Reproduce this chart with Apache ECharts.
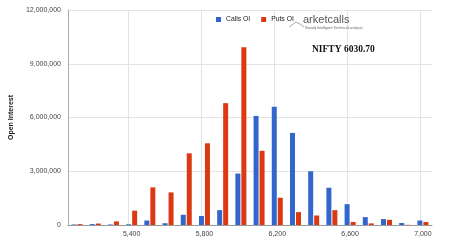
<!DOCTYPE html>
<html>
<head>
<meta charset="utf-8">
<script src="https://cdn.jsdelivr.net/npm/echarts@6/dist/echarts.min.js"></script>
<style>
  html, body { margin: 0; padding: 0; background: #fff; }
  #main { width: 474px; height: 244px; }
</style>
</head>
<body>
<div id="main"></div>
<script>
// strike prices (categories)
var strikes = ['5100','5200','5300','5400','5500','5600','5700','5800','5900','6000',
               '6100','6200','6300','6400','6500','6600','6700','6800','6900','7000'];
// open interest
var callsOI = [30000, 50000, 30000, 40000, 250000, 100000, 570000, 500000, 830000, 2870000,
               6090000, 6600000, 5140000, 3000000, 2080000, 1160000, 440000, 330000, 110000, 250000];
var putsOI  = [50000, 80000, 200000, 800000, 2100000, 1820000, 4000000, 4560000, 6800000, 9920000,
               4140000, 1520000, 720000, 530000, 830000, 170000, 90000, 290000, 10000, 170000];
// strikes that get a label and a vertical grid line
var labelStrikes = ['5400', '5800', '6200', '6600', '7000'];

var font = 'Liberation Sans, Arial, sans-serif';

function fmt(v) {
    return String(v).replace(/\B(?=(\d{3})+(?!\d))/g, ',');
}

var myChart = echarts.init(document.getElementById('main'));
myChart.setOption({
    animation: false,
    backgroundColor: '#fff',
    textStyle: { fontFamily: font },
    grid: { left: 62, right: 42, top: 10, bottom: 19 },
    legend: {
        left: 211, top: 11,
        icon: 'rect', itemWidth: 5, itemHeight: 5, itemGap: 11,
        textStyle: { fontSize: 6.8, color: '#222', fontFamily: font },
        data: ['Calls OI', 'Puts OI']
    },
    xAxis: {
        type: 'category',
        data: strikes,
        axisLine: { lineStyle: { color: '#999' } },
        axisTick: { show: false },
        splitLine: { show: false },
        axisLabel: {
            interval: function (i, v) { return labelStrikes.indexOf(String(v)) >= 0; },
            formatter: function (v) { return fmt(v); },
            fontSize: 7, color: '#444', margin: 6
        }
    },
    yAxis: {
        type: 'value',
        min: 0, max: 12000000, interval: 3000000,
        name: 'Open Interest',
        nameLocation: 'middle',
        nameGap: 49,
        nameTextStyle: { fontSize: 7, fontWeight: 'bold', color: '#222' },
        axisLine: { show: true, lineStyle: { color: '#aaa' } },
        axisTick: { show: false },
        splitLine: { lineStyle: { color: '#e3e3e3' } },
        axisLabel: { formatter: fmt, fontSize: 7, color: '#444', margin: 7 }
    },
    series: [
        {
            name: 'Calls OI', type: 'bar', data: callsOI,
            barWidth: 5, barGap: '20%',
            itemStyle: { color: '#3366cc' },
            markLine: {
                silent: true, symbol: 'none', label: { show: false },
                lineStyle: { color: '#e3e3e3', type: 'solid', width: 1 },
                z: 0,
                data: labelStrikes.map(function (s) { return { xAxis: s }; })
            }
        },
        {
            name: 'Puts OI', type: 'bar', data: putsOI,
            barWidth: 5,
            itemStyle: { color: '#dc3912' }
        }
    ],
    graphic: [
        {
            type: 'polyline', z: 10,
            shape: { points: [[289, 27], [296, 22], [300, 24], [304, 27]] },
            style: { stroke: '#aaa', lineWidth: 1, fill: null }
        },
        {
            type: 'text', left: 303, top: 14, z: 10,
            style: { text: 'arketcalls', font: '11px ' + font, fill: '#555' }
        },
        {
            type: 'text', left: 305, top: 26, z: 10,
            style: { text: 'Steady Intelligent Technical analysis', font: '3.6px ' + font, fill: '#666' }
        },
        {
            type: 'text', left: 312, top: 45, z: 10,
            style: { text: 'NIFTY 6030.70', font: 'bold 9.5px Liberation Serif, Times New Roman, serif', fill: '#111' }
        }
    ]
});
</script>
</body>
</html>
